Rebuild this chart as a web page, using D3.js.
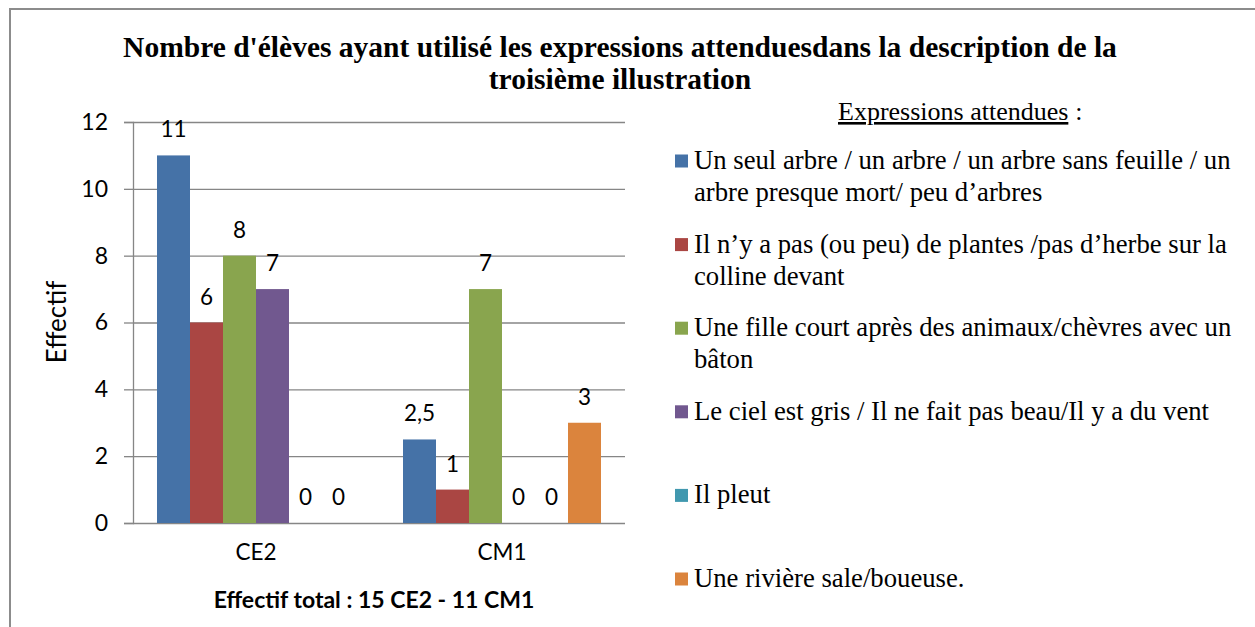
<!DOCTYPE html>
<html><head><meta charset="utf-8">
<script src="https://cdn.jsdelivr.net/npm/d3@7"></script>
<style>body{margin:0;background:#fff}svg{display:block}</style>
</head><body><svg id="c" width="1255" height="627"></svg>
<script>
const categories = ["CE2", "CM1"];
const seriesNames = [
  "Un seul arbre / un arbre / un arbre sans feuille / un|arbre presque mort/ peu d’arbres",
  "Il n’y a pas (ou peu) de plantes /pas d’herbe sur la|colline devant",
  "Une fille court après des animaux/chèvres avec un|bâton",
  "Le ciel est gris / Il ne fait pas beau/Il y a du vent",
  "Il pleut",
  "Une rivière sale/boueuse."
];
const colors = ["#4572A7", "#AA4643", "#89A54E", "#71588F", "#4198AF", "#DB843D"];
const valuesCE2 = [11, 6, 8, 7, 0, 0];
const valuesCM1 = [2.5, 1, 7, 0, 0, 3];
const yTicks = [0, 2, 4, 6, 8, 10, 12];
const titleLines = ["Nombre d'élèves ayant utilisé les expressions attenduesdans la description de la", "troisième illustration"];

const SANS = "Lato, 'Open Sans', sans-serif";
const SERIF = "'Liberation Serif', 'Times New Roman', serif";
const svg = d3.select("#c");
const values = [valuesCE2, valuesCM1];

// outer border
svg.append("rect").attr("x", 10).attr("y", 9).attr("width", 1300).attr("height", 700)
  .attr("fill", "none").attr("stroke", "#8c8c8c").attr("stroke-width", 2);

const L = 133, R = 625, T = 122, B = 523;
const y = d3.scaleLinear().domain([0, 12]).range([B, T]);
const x0 = d3.scaleBand().domain(categories).range([L, R]);
const bw = x0.bandwidth();
const x1 = d3.scaleBand().domain(d3.range(6)).range([24, bw - 24]);

// gridlines
const gy = svg.append("g").attr("transform", `translate(${L},0)`)
  .call(d3.axisLeft(y).tickValues(yTicks).tickSize(-(R - L)).tickFormat(""));
gy.select(".domain").remove();
gy.selectAll(".tick line").attr("stroke", "#868686").attr("stroke-width", 1.3);
// left axis
const ay = svg.append("g").attr("transform", `translate(${L},0)`)
  .call(d3.axisLeft(y).tickValues(yTicks).tickSize(9).tickPadding(16).tickFormat(d => d));
ay.select(".domain").attr("stroke", "#868686").attr("stroke-width", 1.3);
ay.selectAll(".tick line").attr("stroke", "#868686").attr("stroke-width", 1.3);
ay.selectAll(".tick text").attr("font-family", SANS).attr("font-size", 23).attr("fill", "#000");

// bars
categories.forEach((c, ci) => {
  const g = svg.append("g").attr("transform", `translate(${x0(c)},0)`);
  values[ci].forEach((v, si) => {
    if (v > 0) {
      g.append("rect").attr("x", x1(si)).attr("width", x1.bandwidth())
        .attr("y", y(v)).attr("height", y(0) - y(v)).attr("fill", colors[si]);
    }
  });
  values[ci].forEach((v, si) => {
    g.append("text").attr("x", x1(si) + x1.bandwidth() / 2).attr("y", y(v) - 18)
      .attr("text-anchor", "middle").attr("font-family", SANS)
      .attr("font-size", 22.5).text(String(v).replace(".", ","));
  });
});

// x axis labels
const ax = svg.append("g").attr("transform", `translate(0,${B})`)
  .call(d3.axisBottom(x0).tickSize(0).tickPadding(21));
ax.select(".domain").remove();
ax.selectAll(".tick text").attr("font-family", SANS).attr("font-size", 22.5).attr("fill", "#000");

// x title
svg.append("text").attr("x", 374).attr("y", 608).attr("text-anchor", "middle")
  .attr("font-family", SANS).attr("font-weight", "bold").attr("font-size", 23)
  .text("Effectif total : 15 CE2 - 11 CM1");

// y title
svg.append("text").attr("transform", "translate(66,322) rotate(-90)").attr("text-anchor", "middle")
  .attr("font-family", SANS).attr("font-size", 26).text("Effectif");

// title
titleLines.forEach((t, i) => {
  svg.append("text").attr("x", 620).attr("y", 57 + i * 32).attr("text-anchor", "middle")
    .attr("font-family", SERIF).attr("font-weight", "bold").attr("font-size", 29.5)
    .text(t);
});

// legend
const lg = svg.append("g");
const head = lg.append("text").attr("x", 838).attr("y", 120).attr("font-family", SERIF)
  .attr("font-size", 26).attr("text-decoration", "underline").text("Expressions attendues");
const hw = head.node().getComputedTextLength();
lg.append("text").attr("x", 838 + hw + 7).attr("y", 120).attr("font-family", SERIF)
  .attr("font-size", 26).text(":");
seriesNames.forEach((n, i) => {
  const cy = 161 + i * 83.6;
  lg.append("rect").attr("x", 675).attr("y", cy - 6.5).attr("width", 13).attr("height", 13).attr("fill", colors[i]);
  n.split("|").forEach((line, li) => {
    lg.append("text").attr("x", 694).attr("y", cy + 8 + li * 32)
      .attr("font-family", SERIF).attr("font-size", 26.7).text(line);
  });
});
</script></body></html>
